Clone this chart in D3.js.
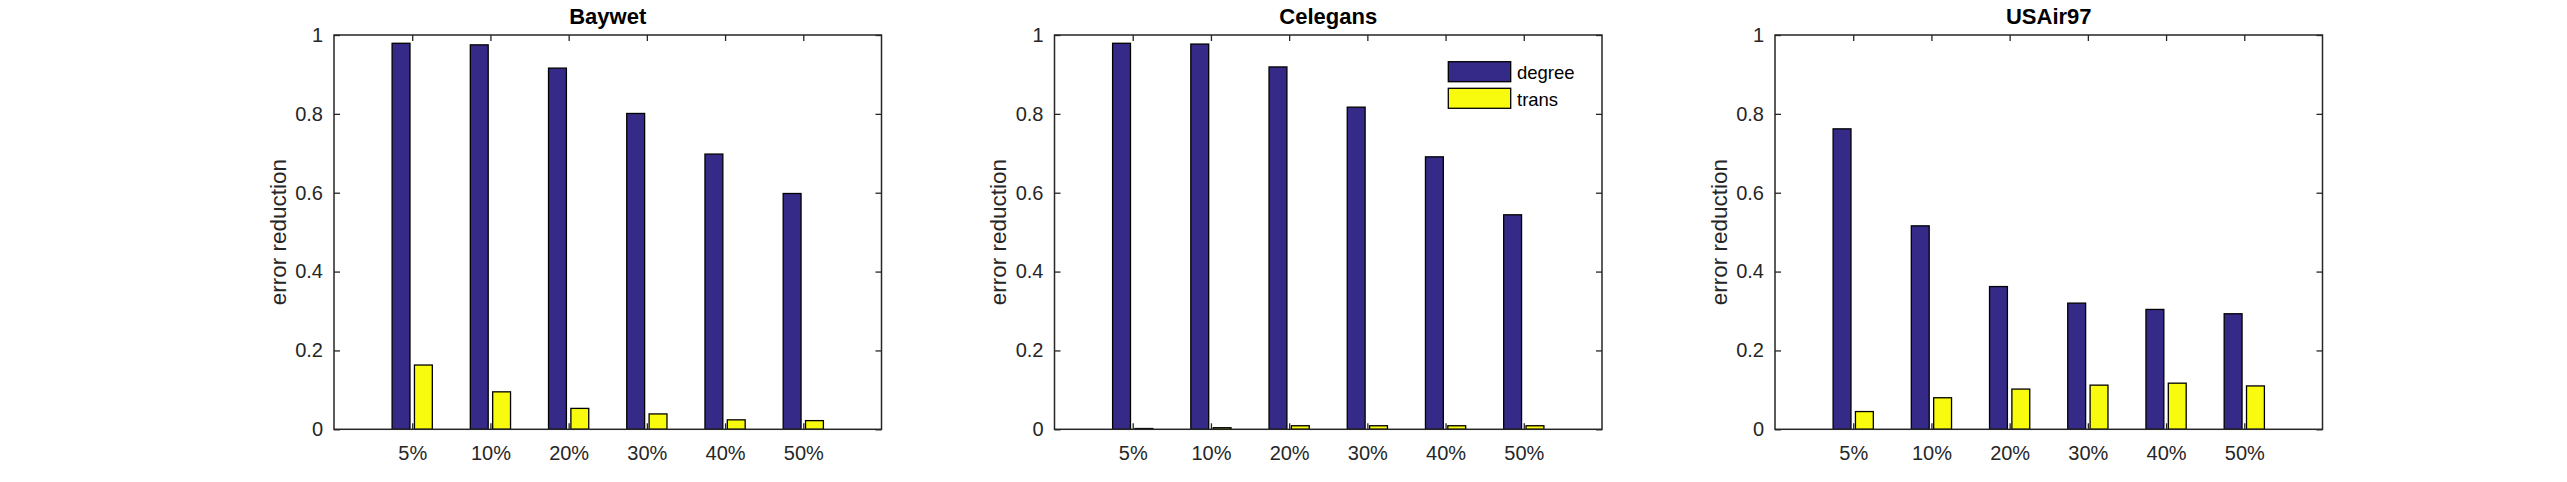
<!DOCTYPE html>
<html>
<head>
<meta charset="utf-8">
<script src="https://cdn.jsdelivr.net/npm/d3@7"></script>
<style>
  body { margin: 0; background: #fff; }
  svg { display: block; }
  text { font-family: "Liberation Sans", Arial, sans-serif; fill: #262626; }
</style>
</head>
<body>
<div id="chart"></div>
<script>
var categories = ['5%', '10%', '20%', '30%', '40%', '50%'];
var series_names = ['degree', 'trans'];
var panel_titles = ['Baywet', 'Celegans', 'USAir97'];

var baywet_degree = [0.979, 0.975, 0.916, 0.801, 0.698, 0.598];
var baywet_trans = [0.163, 0.095, 0.053, 0.039, 0.024, 0.022];

var celegans_degree = [0.979, 0.977, 0.919, 0.817, 0.691, 0.544];
var celegans_trans = [0.002, 0.004, 0.009, 0.009, 0.009, 0.009];

var usair_degree = [0.762, 0.516, 0.362, 0.320, 0.304, 0.293];
var usair_trans = [0.045, 0.080, 0.102, 0.112, 0.117, 0.110];

var y_ticks = [0, 0.2, 0.4, 0.6, 0.8, 1];
var y_tick_labels = ['0', '0.2', '0.4', '0.6', '0.8', '1'];

var panels = [
    { title: panel_titles[0], degree: baywet_degree, trans: baywet_trans, legend: false },
    { title: panel_titles[1], degree: celegans_degree, trans: celegans_trans, legend: true },
    { title: panel_titles[2], degree: usair_degree, trans: usair_trans, legend: false }
];

function drawCharts() {
    var width = 2567;
    var height = 482;

    var panel_lefts = [334, 1054.5, 1775];
    var panel_width = 547.5;
    var panel_top = 35;
    var panel_bottom = 429.3;
    var tick_len = 6;

    var axis_color = '#262626';
    var colors = { degree: '#352a87', trans: '#f9fb0e' };

    // matlab grouped bars: 2 series -> group width 0.571, bar width 0.8 of half
    var group_width = 2 / 3.5;
    var bar_width = group_width / 2 * 0.8;
    var offsets = [-group_width / 4, group_width / 4];

    var svg = d3.select('#chart')
        .append('svg')
        .attr('width', width)
        .attr('height', height);

    panels.forEach(function(p, pi) {
        var x = d3.scaleLinear()
            .domain([0, categories.length + 1])
            .range([0, panel_width]);
        var y = d3.scaleLinear()
            .domain([0, 1])
            .range([panel_bottom - panel_top, 0]);
        var inner_h = panel_bottom - panel_top;

        var g = svg.append('g')
            .attr('transform', `translate(${panel_lefts[pi]}, ${panel_top})`);

        var rows = categories.map(function(c, i) {
            return { cat: c, pos: i + 1, degree: p.degree[i], trans: p.trans[i] };
        });

        series_names.forEach(function(s, si) {
            g.append('g')
                .selectAll('rect')
                .data(rows)
                .enter()
                .append('rect')
                .attr('x', function(d) { return x(d.pos + offsets[si] - bar_width / 2); })
                .attr('width', x(bar_width) - x(0))
                .attr('y', function(d) { return y(d[s]); })
                .attr('height', function(d) { return Math.max(y(0) - y(d[s]), 0.5); })
                .attr('fill', colors[s])
                .attr('stroke', '#000')
                .attr('stroke-width', 1.3);
        });

        // axes
        var xaxis = g.append('g')
            .attr('transform', `translate(0, ${inner_h})`)
            .call(d3.axisBottom(x)
                .tickValues(rows.map(function(d) { return d.pos; }))
                .tickFormat(function(v) { return categories[v - 1]; })
                .tickSizeInner(-tick_len)
                .tickSizeOuter(0)
                .tickPadding(17));

        var yaxis = g.append('g')
            .call(d3.axisLeft(y)
                .tickValues(y_ticks)
                .tickFormat(function(v, i) { return y_tick_labels[i]; })
                .tickSizeInner(-tick_len)
                .tickSizeOuter(0)
                .tickPadding(11));

        g.append('g')
            .call(d3.axisTop(x)
                .tickValues(rows.map(function(d) { return d.pos; }))
                .tickFormat('')
                .tickSizeInner(-tick_len)
                .tickSizeOuter(0));

        g.append('g')
            .attr('transform', `translate(${panel_width}, 0)`)
            .call(d3.axisRight(y)
                .tickValues(y_ticks)
                .tickFormat('')
                .tickSizeInner(-tick_len)
                .tickSizeOuter(0));

        g.selectAll('.domain').remove();
        g.selectAll('.tick line')
            .attr('stroke', axis_color)
            .attr('stroke-width', 1.3);
        g.selectAll('.tick text')
            .style('font-size', '20px')
            .style('fill', axis_color);

        g.append('rect')
            .attr('x', 0)
            .attr('y', 0)
            .attr('width', panel_width)
            .attr('height', inner_h)
            .attr('fill', 'none')
            .attr('stroke', axis_color)
            .attr('stroke-width', 1.5);

        g.append('text')
            .attr('x', panel_width / 2)
            .attr('y', 24 - panel_top)
            .attr('text-anchor', 'middle')
            .style('font-weight', 700)
            .style('font-size', '22px')
            .style('fill', '#000')
            .text(p.title);

        g.append('text')
            .attr('transform', `translate(-48.5, ${inner_h / 2}) rotate(-90)`)
            .attr('text-anchor', 'middle')
            .style('font-size', '22.5px')
            .text('error reduction');

        if (p.legend) {
            var lg = g.append('g')
                .attr('transform', `translate(${1448.3 - panel_lefts[pi]}, ${61.7 - panel_top})`);
            series_names.forEach(function(s, si) {
                lg.append('rect')
                    .attr('x', 0)
                    .attr('y', si * 26.6)
                    .attr('width', 62.4)
                    .attr('height', 20)
                    .attr('fill', colors[s])
                    .attr('stroke', '#000')
                    .attr('stroke-width', 1.3);
                lg.append('text')
                    .attr('x', 68.7)
                    .attr('y', si * 26.6 + 10)
                    .attr('dy', '0.4em')
                    .style('font-size', '18.5px')
                    .style('fill', '#000')
                    .text(s);
            });
        }
    });
}

drawCharts();
</script>
</body>
</html>
